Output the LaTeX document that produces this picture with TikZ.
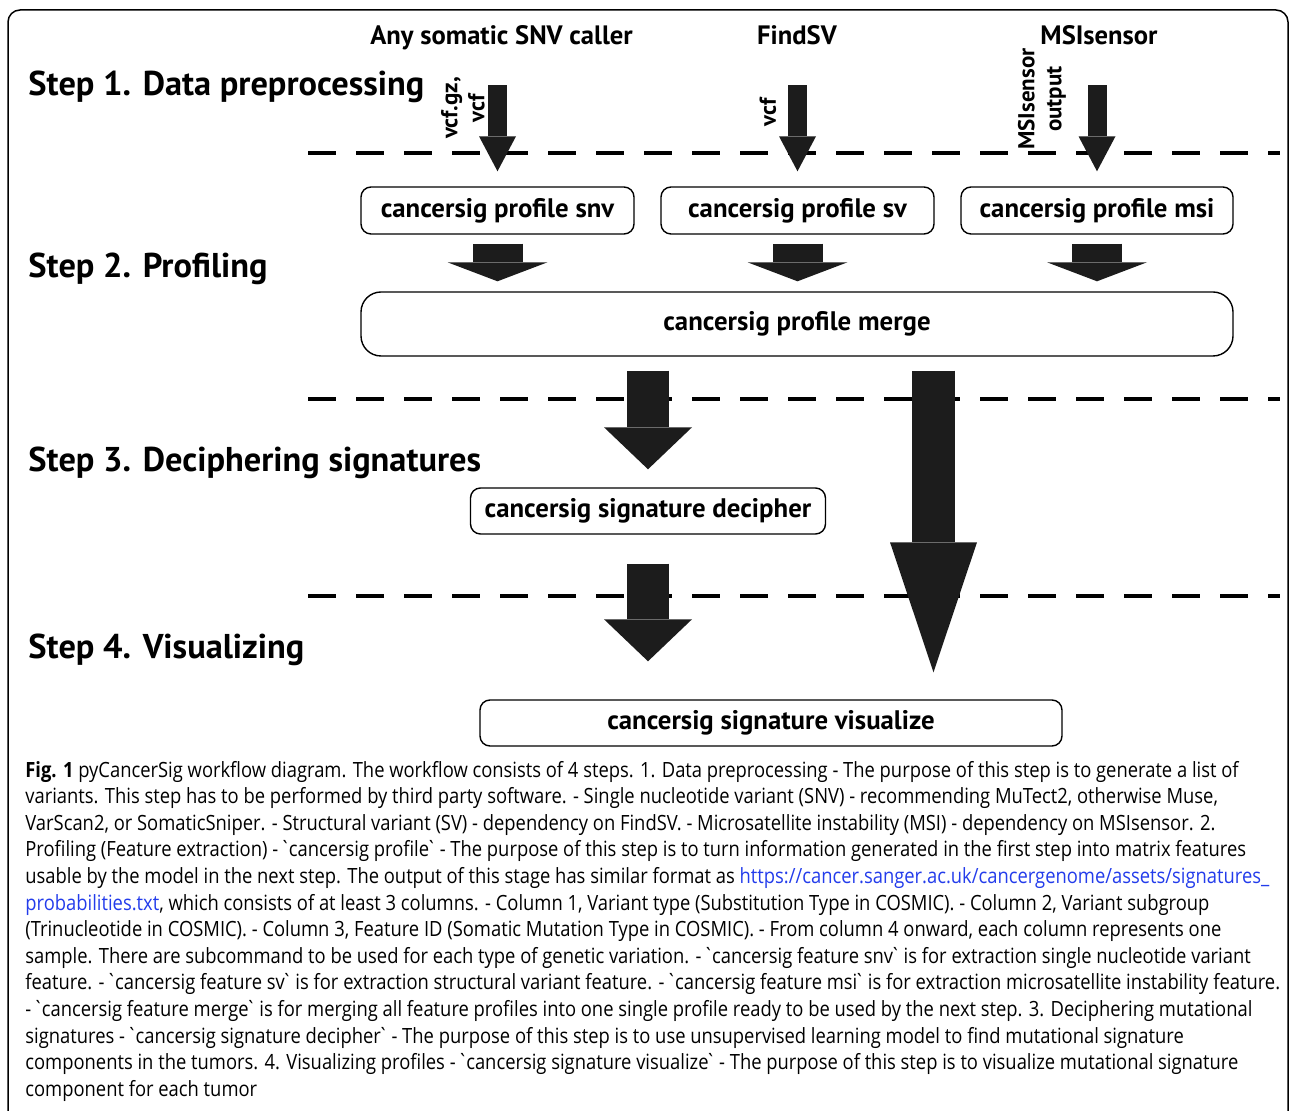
\documentclass[tikz,border=0pt]{standalone}
\usepackage{xcolor}
\usepackage{fontspec}
\setmainfont{PT Sans}
\newfontfamily\capfont[FakeStretch=0.875]{Open Sans}
\usepackage{tikz}
\usetikzlibrary{arrows.meta}
\definecolor{arrowblack}{RGB}{28,28,28}
\definecolor{linkblue}{RGB}{35,60,235}
\newcommand{\bq}{\kern-0.15em\textasciigrave\kern-0.15em}
\tikzstyle{steplabel} = [anchor=base west, inner sep=0, font=\fontsize{17.2}{18}\selectfont\bfseries]
\tikzstyle{tool} = [anchor=base, inner sep=0, text height=9pt, text depth=2.5pt, font=\fontsize{13.3}{15}\selectfont\bfseries]
\tikzstyle{filetype} = [rotate=90, inner sep=0, align=center, font=\fontsize{11.5}{13.5}\selectfont\bfseries]
\tikzstyle{process} = [rectangle, rounded corners=5pt, draw=black, line width=0.7pt, text centered,
minimum height=23.5pt, font=\fontsize{13.4}{15}\selectfont\bfseries]
\tikzstyle{divider} = [line width=2pt, dash pattern=on 14pt off 10pt]
\tikzstyle{inarrow} = [draw=arrowblack, line width=9.5pt, -{Triangle[width=18.5pt,length=17.5pt,line width=0pt]}]
\tikzstyle{fatarrow} = [draw=arrowblack, line width=25pt, -{Triangle[width=50pt,length=9.5pt,line width=0pt]}]
\tikzstyle{bigarrow} = [draw=arrowblack, line width=21pt, -{Triangle[width=44pt,length=21pt,line width=0pt]}]
\tikzstyle{longarrow} = [draw=arrowblack, line width=21.5pt, -{Triangle[width=43.5pt,length=65pt,line width=0pt]}]
\tikzstyle{capline} = [anchor=base west, inner sep=0, font=\capfont\fontsize{10.5}{12}\selectfont]
\begin{document}
\begin{tikzpicture}[x=0.5pt, y=-0.5pt]
                 \useasboundingbox (0,0) rectangle (1290,1111);
                 \draw[rounded corners=6pt, line width=0.75pt] (8,10) rectangle (1288,1135);
                 \node (step1) [steplabel] at (28,96) {Step 1. Data preprocessing};
                 \node (step2) [steplabel] at (28,278) {Step 2. Profiling};
                 \node (step3) [steplabel] at (28,472) {Step 3. Deciphering signatures};
                 \node (step4) [steplabel] at (28,659) {Step 4. Visualizing};
                 \draw[divider] (308,153) -- (1280,153);
                 \draw[divider] (308,399) -- (1280,399);
                 \draw[divider] (308,596) -- (1280,596);
                 \node (snvtool) [tool] at (501.5,45) {Any somatic SNV caller};
                 \node (svtool) [tool] at (797,45) {FindSV};
                 \node (msitool) [tool] at (1099,45) {MSIsensor};
                 \node (snvin) [filetype] at (463,108) {vcf.gz,\\vcf};
                 \node (svin) [filetype] at (768,112) {vcf};
                 \node (msiin) [filetype] at (1042,99) {MSIsensor\\output};
                 \node (snv) [process, minimum width=136.5pt] at (497.5,210.5) {cancersig profile snv};
                 \node (sv) [process, minimum width=136.5pt] at (797.5,210.5) {cancersig profile sv};
                 \node (msi) [process, minimum width=136pt] at (1097,210.5) {cancersig profile msi};
                 \node (merge) [process, rounded corners=10pt, minimum width=436pt, minimum height=32pt] at (797,324) {cancersig profile merge};
                 \node (decipher) [process, minimum width=177.5pt, minimum height=23pt] at (648,511) {cancersig signature decipher};
                 \node (visualize) [process, minimum width=291pt, minimum height=23pt] at (771,723) {cancersig signature visualize};
                 \draw [inarrow, shorten <=17.5pt, shorten >=7.5pt] (snv.north |- snvtool.south) -- (snv.north);
                 \draw [inarrow, shorten <=17.5pt, shorten >=7.5pt] (sv.north |- svtool.south) -- (sv.north);
                 \draw [inarrow, shorten <=17.5pt, shorten >=7.5pt] (msi.north |- msitool.south) -- (msi.north);
                 \draw [fatarrow, shorten <=4.5pt, shorten >=5pt] (snv.south) -- (snv.south |- merge.north);
                 \draw [fatarrow, shorten <=4.5pt, shorten >=5pt] (sv.south) -- (sv.south |- merge.north);
                 \draw [fatarrow, shorten <=4.5pt, shorten >=5pt] (msi.south) -- (msi.south |- merge.north);
                 \draw [bigarrow, shorten <=7pt, shorten >=9pt] (decipher.north |- merge.south) -- (decipher.north);
                 \draw [bigarrow, shorten <=14.5pt, shorten >=19pt] (decipher.south) -- (decipher.south |- visualize.north);
                 \draw [longarrow, shorten <=7pt, shorten >=13.5pt] (933.5,0 |- merge.south) -- (933.5,0 |- visualize.north);
                 \node (cap1) [capline] at (25,777) {\textbf{Fig. 1} pyCancerSig workflow diagram. The workflow consists of 4 steps. 1. Data preprocessing - The purpose of this step is to generate a list of};
                 \node (cap2) [capline] at (25,803.6) {variants. This step has to be performed by third party software. - Single nucleotide variant (SNV) - recommending MuTect2, otherwise Muse,};
                 \node (cap3) [capline] at (25,830.2) {VarScan2, or SomaticSniper. - Structural variant (SV) - dependency on FindSV. - Microsatellite instability (MSI) - dependency on MSIsensor. 2.};
                 \node (cap4) [capline] at (25,856.8) {Profiling (Feature extraction) - \bq cancersig profile\bq{} - The purpose of this step is to turn information generated in the first step into matrix features};
                 \node (cap5) [capline] at (25,883.4) {usable by the model in the next step. The output of this stage has similar format as \textcolor{linkblue}{https://cancer.sanger.ac.uk/cancergenome/assets/signatures\_}};
                 \node (cap6) [capline] at (25,910) {\textcolor{linkblue}{probabilities.txt}, which consists of at least 3 columns. - Column 1, Variant type (Substitution Type in COSMIC). - Column 2, Variant subgroup};
                 \node (cap7) [capline] at (25,936.6) {(Trinucleotide in COSMIC). - Column 3, Feature ID (Somatic Mutation Type in COSMIC). - From column 4 onward, each column represents one};
                 \node (cap8) [capline] at (25,963.2) {sample. There are subcommand to be used for each type of genetic variation. - \bq cancersig feature snv\bq{} is for extraction single nucleotide variant};
                 \node (cap9) [capline] at (25,989.8) {feature. - \bq cancersig feature sv\bq{} is for extraction structural variant feature. - \bq cancersig feature msi\bq{} is for extraction microsatellite instability feature.};
                 \node (cap10) [capline] at (25,1016.4) {- \bq cancersig feature merge\bq{} is for merging all feature profiles into one single profile ready to be used by the next step. 3. Deciphering mutational};
                 \node (cap11) [capline] at (25,1043) {signatures - \bq cancersig signature decipher\bq{} - The purpose of this step is to use unsupervised learning model to find mutational signature};
                 \node (cap12) [capline] at (25,1069.6) {components in the tumors. 4. Visualizing profiles - \bq cancersig signature visualize\bq{} - The purpose of this step is to visualize mutational signature};
                 \node (cap13) [capline] at (25,1096.2) {component for each tumor};
\end{tikzpicture}
\end{document}
